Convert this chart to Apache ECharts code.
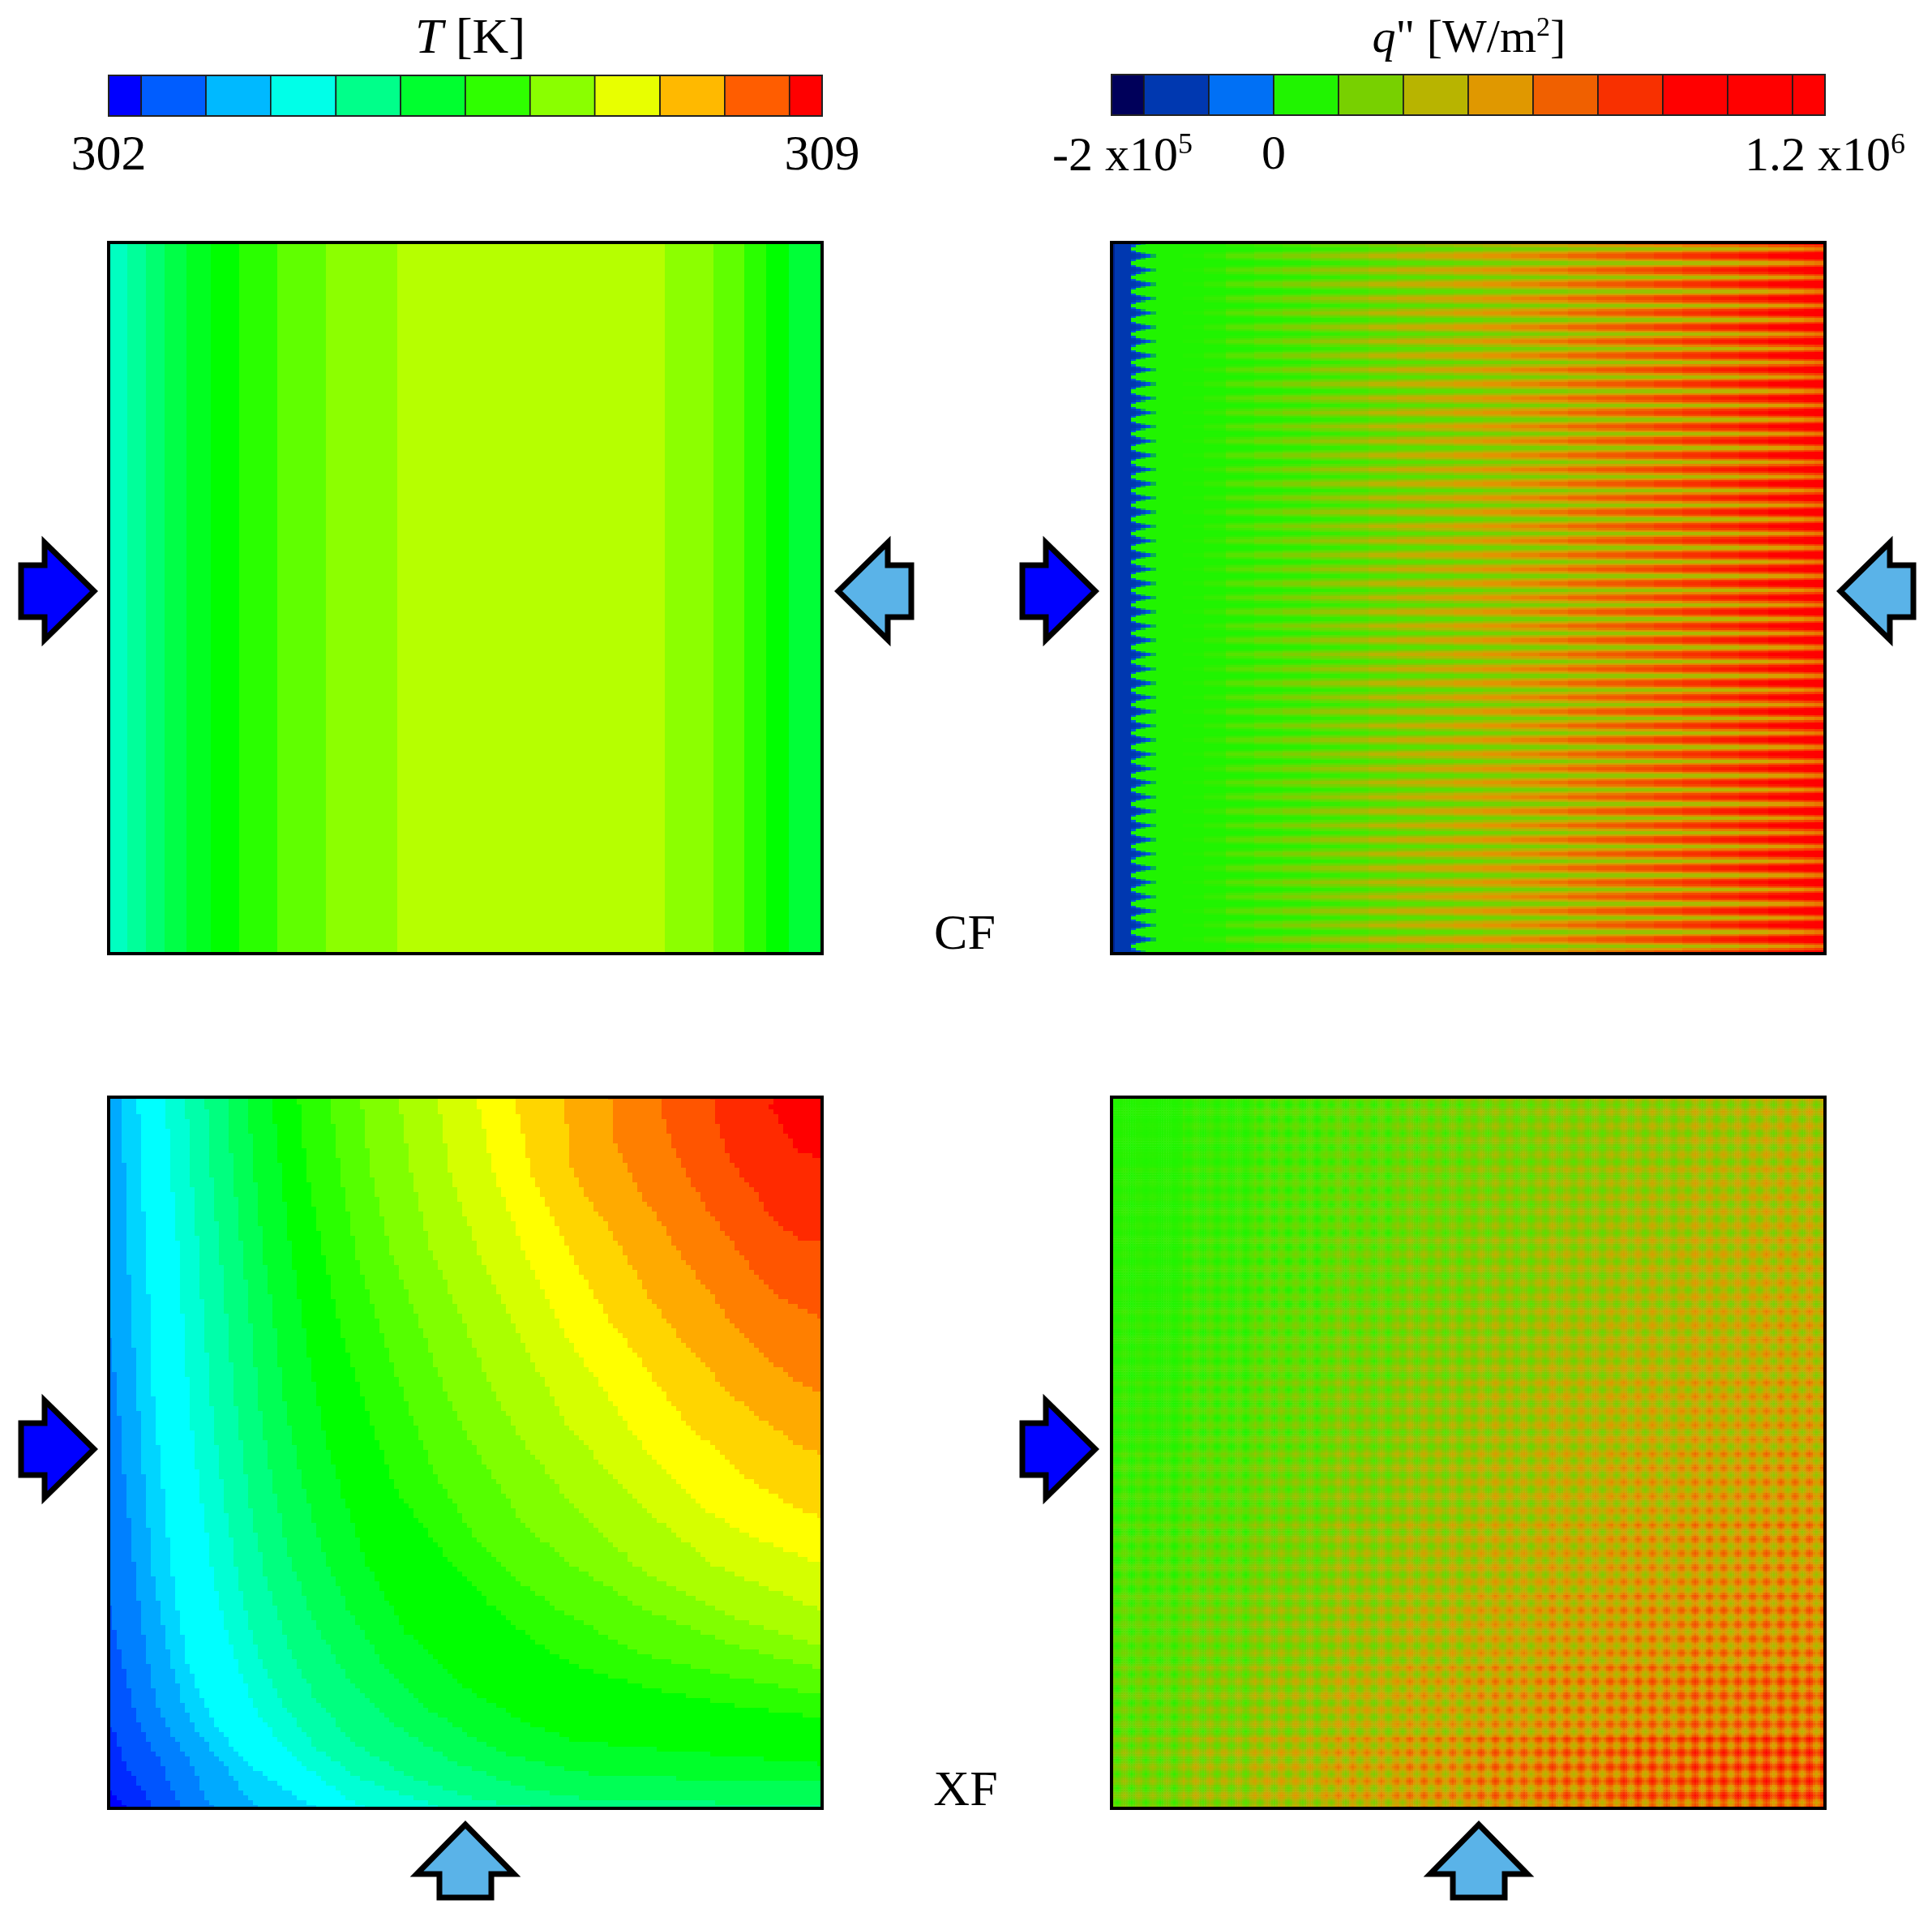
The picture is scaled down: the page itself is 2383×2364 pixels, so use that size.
<!DOCTYPE html>
<html><head><meta charset="utf-8">
<style>html,body{margin:0;padding:0;background:#fff}#c{width:2383px;height:2364px}</style>
<script src="https://cdn.jsdelivr.net/npm/echarts@6/dist/echarts.min.js"></script>
</head><body><div id="c"></div>
<script>
// ---------- colour scale levels ----------
const tempLevels = [302,302.29,302.58,302.88,303.17,303.46,303.75,304.04,304.33,304.63,304.92,305.21,305.5,305.79,306.08,306.38,306.67,306.96,307.25,307.54,307.83,308.13,308.42,308.71,309];
const tempSwatches = [302,302.64,303.27,303.91,304.55,305.18,305.82,306.45,307.09,307.73,308.36,309];
const tempColors = ['#0000ff','#00ffff','#00ff00','#ffff00','#ff0000'];
const tempTicks = [302,309];
// q" is drawn in colour-bar swatch units 0..11 (half-swatch colour stops below)
const fluxColors = ['#00005a','#001e88','#0038b0','#0054d0','#0070f5','#00a060','#20f400','#58e200','#78d000','#98c200','#b8b400','#cca600','#e09800','#e87c00','#f06000','#f44800','#f83000','#fc1800','#ff0000','#ff0000','#ff0000','#ff0000','#ff0000'];
const fluxSwatches = [0,1,2,3,4,5,6,7,8,9,10,11];
const fluxTicks = [0.17,2.5,11];
const fluxTickLabels = ['-2 x10{s|5}','0','1.2 x10{s|6}'];

// ---------- CF temperature: bands across the width ----------
const cfTempEdges = [0,.026,.052,.078,.109,.143,.183,.236,.305,.405,.779,.848,.891,.922,.953,1];
const cfTempBands = [304.18,304.44,304.73,305.01,305.28,305.5,305.79,306.16,306.46,306.75,306.46,306.16,305.79,305.5,305.12];

// ---------- XF temperature: contour k separates band k-1 and k, [x,y] ----------
const xfContours = [
 [[-.02,-.02]],
 [[-.02,.03],[0,.028],[.008,.019],[.023,0]],
 [[-.02,.118],[0,.115],[.008,.102],[.025,.059],[.048,.024],[.061,0]],
 [[-.02,.29],[0,.287],[.012,.234],[.033,.146],[.05,.102],[.075,.059],[.09,.024],[.101,0]],
 [[-.01,.7],[.004,.65],[.014,.562],[.023,.453],[.038,.322],[.05,.234],[.067,.146],[.088,.102],[.117,.059],[.13,.024],[.147,0]],
 [[.017,1.02],[.022,.894],[.026,.78],[.034,.666],[.05,.453],[.063,.322],[.08,.234],[.103,.146],[.126,.102],[.164,.059],[.187,.024],[.208,0]],
 [[.04,1.02],[.046,.894],[.052,.78],[.059,.672],[.063,.562],[.073,.475],[.082,.387],[.096,.278],[.111,.199],[.134,.146],[.16,.102],[.197,.059],[.252,.024],[.288,0]],
 [[.078,1.02],[.087,.894],[.098,.78],[.105,.672],[.115,.541],[.13,.431],[.147,.322],[.172,.225],[.206,.138],[.248,.081],[.302,.037],[.357,0]],
 [[.107,1.02],[.115,.894],[.126,.78],[.134,.672],[.147,.541],[.162,.431],[.181,.322],[.206,.225],[.244,.146],[.29,.085],[.353,.041],[.437,.011],[.466,0]],
 [[.135,1.02],[.143,.894],[.156,.78],[.167,.672],[.181,.541],[.197,.431],[.218,.33],[.248,.234],[.286,.16],[.34,.094],[.416,.046],[.521,.011],[.597,0]],
 [[.163,1.02],[.174,.894],[.187,.78],[.2,.672],[.214,.541],[.235,.431],[.256,.343],[.29,.256],[.332,.186],[.395,.12],[.479,.067],[.584,.028],[.655,.015],[.85,.008],[1.02,0]],
 [[.191,1.02],[.204,.894],[.217,.78],[.233,.672],[.248,.562],[.273,.453],[.298,.365],[.336,.278],[.386,.199],[.449,.138],[.542,.081],[.655,.05],[.8,.042],[1.02,.035]],
 [[.226,1.02],[.241,.894],[.256,.78],[.274,.672],[.298,.541],[.323,.453],[.361,.343],[.416,.247],[.5,.168],[.584,.12],[.655,.094],[.8,.08],[1.02,.06]],
 [[.263,1.02],[.278,.894],[.3,.78],[.325,.672],[.353,.584],[.399,.453],[.462,.365],[.542,.278],[.6,.232],[.643,.205],[.75,.17],[.87,.145],[1.02,.125]],
 [[.306,1.02],[.324,.894],[.346,.78],[.38,.672],[.412,.584],[.454,.475],[.508,.387],[.584,.31],[.643,.271],[.75,.215],[.87,.185],[1.02,.155]],
 [[.35,1.02],[.367,.894],[.396,.78],[.439,.672],[.471,.584],[.517,.497],[.58,.4],[.643,.345],[.75,.28],[.87,.23],[1.02,.19]],
 [[.402,1.02],[.424,.894],[.452,.78],[.502,.672],[.538,.584],[.584,.51],[.643,.434],[.75,.33],[.87,.27],[1.02,.22]],
 [[.457,1.02],[.478,.894],[.517,.78],[.571,.672],[.601,.615],[.643,.536],[.75,.42],[.85,.34],[1.02,.27]],
 [[.51,1.02],[.539,.894],[.583,.78],[.643,.66],[.7,.578],[.757,.495],[.832,.42],[.908,.378],[1.02,.335]],
 [[.565,1.02],[.591,.894],[.643,.786],[.662,.752],[.7,.688],[.734,.643],[.806,.545],[.87,.485],[.908,.452],[.969,.42],[1.02,.4]],
 [[.639,1.02],[.643,.938],[.65,.892],[.681,.843],[.704,.809],[.727,.771],[.757,.717],[.81,.648],[.87,.583],[.916,.546],[.969,.508],[1.02,.49]],
 [[.702,1.02],[.707,.938],[.723,.904],[.745,.862],[.772,.824],[.806,.771],[.844,.721],[.885,.666],[.931,.625],[.969,.597],[1.02,.57]],
 [[.777,1.02],[.776,.98],[.783,.949],[.795,.919],[.821,.87],[.844,.832],[.878,.79],[.908,.748],[.946,.714],[.995,.691],[1.02,.68]],
 [[.844,1.02],[.849,.972],[.866,.922],[.889,.881],[.908,.862],[.931,.824],[.965,.801],[.995,.797],[1.02,.79]],
 [[.94,1.02],[.927,.983],[.946,.953],[.965,.923],[.995,.915],[1.02,.91]]
];

// ---------- CF heat flux: station edges across width, then one profile per stripe position ----------
const cfFluxEdges = [0,.005,.015,.027,.034,.041,.048,.055,.062,.08,.1,.13,.16,.2,.24,.28,.32,.36,.4,.44,.48,.52,.56,.6,.64,.68,.72,.76,.8,.84,.88,.92,.95,.97,.985,1];
const cfFluxHot  = [.6,1,1,1,1.1,1.3,1.6,2.6,3,3,3.05,3.2,3.5,3.8,4.1,4.4,4.7,5,5.3,5.5,5.8,6.05,6.3,6.6,6.9,7.15,7.4,7.7,8,8.4,8.7,9,9.2,9.4,9.5];
const cfFluxWarm = [.6,1,1,1.1,1.4,2.6,3,3,3,3,3,3.1,3.3,3.5,3.7,3.9,4.2,4.4,4.7,4.9,5.2,5.4,5.7,6,6.3,6.6,6.9,7.2,7.5,7.8,8.1,8.4,8.7,8.9,9.1];
const cfFluxMid  = [.6,1,1,1.6,3,3,3,3,3,3,3,3,3.1,3.2,3.3,3.5,3.6,3.8,4,4.2,4.4,4.6,4.8,5,5.3,5.5,5.8,6,6.3,6.5,6.8,7.1,7.4,7.6,7.8];
const cfFluxCold = [.6,1,1,3,3,3,3,3,3,3,3,3,3,3.05,3.1,3.2,3.3,3.4,3.5,3.6,3.7,3.9,4,4.1,4.3,4.4,4.5,4.6,4.8,5,5.4,5.8,6.1,6.4,6.6];
const cfStripeOrder = [cfFluxHot,cfFluxWarm,cfFluxMid,cfFluxCold,cfFluxCold,cfFluxMid,cfFluxWarm,cfFluxHot];
const cfStripeCount = 50;

// ---------- XF heat flux: hot/cold spot levels per block (top row first), spot tile ----------
const xfFluxPeak = [
 [3.1,3.4,3.8,4.1,4.5,4.8,5.0,5.3,5.6,5.9],
 [3.2,3.5,3.9,4.2,4.6,4.9,5.2,5.5,5.8,6.1],
 [3.2,3.6,4.0,4.4,4.8,5.1,5.4,5.7,6.0,6.3],
 [3.3,3.7,4.2,4.6,5.0,5.3,5.6,5.9,6.2,6.5],
 [3.4,3.9,4.4,4.8,5.2,5.6,5.9,6.2,6.5,6.7],
 [3.6,4.1,4.6,5.0,5.4,5.8,6.1,6.5,6.8,7.0],
 [3.8,4.3,4.8,5.3,5.7,6.1,6.4,6.8,7.1,7.3],
 [4.0,4.6,5.1,5.6,6.0,6.4,6.8,7.1,7.4,7.6],
 [4.3,4.9,5.5,6.0,6.5,6.9,7.3,7.6,7.9,8.1],
 [4.7,5.4,6.0,6.6,7.1,7.6,8.0,8.4,8.7,8.9]];
const xfFluxTrough = [
 [3,3,3,3.1,3.2,3.4,3.5,3.6,3.7,3.8],
 [3,3,3,3.1,3.3,3.4,3.6,3.7,3.8,3.9],
 [3,3,3,3.2,3.3,3.5,3.7,3.8,3.9,4],
 [3,3,3.1,3.2,3.4,3.6,3.8,3.9,4,4.1],
 [3,3,3.1,3.3,3.5,3.7,3.9,4,4.1,4.2],
 [3,3.1,3.2,3.4,3.6,3.8,4,4.1,4.3,4.4],
 [3,3.1,3.3,3.5,3.7,3.9,4.1,4.3,4.4,4.5],
 [3.1,3.2,3.4,3.6,3.8,4.1,4.3,4.5,4.6,4.7],
 [3.1,3.3,3.5,3.8,4,4.3,4.5,4.7,4.9,5],
 [3.2,3.5,3.8,4.1,4.4,4.7,4.9,5.1,5.3,5.5]];
const xfSpotTile = [
 [.75,.5,.375,.5,.75,.875],
 [.5,.25,.125,.25,.5,.625],
 [.375,.125,0,.125,.375,.5],
 [.5,.25,.125,.25,.5,.625],
 [.75,.5,.375,.5,.75,.875],
 [.875,.625,.5,.625,.875,1]];
const xfFluxCells = 300;

// ---------- build series data ----------
const tempBarData = tempSwatches.map((t,i)=>[
  i?(tempSwatches[i-1]+t)/2:t, i<tempSwatches.length-1?(tempSwatches[i+1]+t)/2:t, t]);
const fluxBarData = fluxSwatches.map(v=>[Math.max(v-.5,0),Math.min(v+.5,11),v]);
const cfTempData = cfTempBands.map((t,i)=>[cfTempEdges[i],cfTempEdges[i+1],t]);
const xfTempData = xfContours.map((c,k)=>[k,0,tempLevels[k]]);
const cfRows = cfStripeCount*cfStripeOrder.length;
const cfFluxData = [];
for (let r=0;r<cfRows;r++){ const p=cfStripeOrder[r%cfStripeOrder.length];
  for (let c=0;c<p.length;c++) cfFluxData.push([c,r,p[c]]); }
const xfFluxData = [];
const blockSize = xfFluxCells/xfFluxPeak.length;
for (let r=0;r<xfFluxCells;r++) for (let c=0;c<xfFluxCells;c++){
  const row=xfFluxPeak.length-1-Math.floor(r/blockSize), col=Math.floor(c/blockSize);
  const lo=xfFluxTrough[row][col], hi=xfFluxPeak[row][col];
  xfFluxData.push([c,r,lo+(hi-lo)*xfSpotTile[r%6][c%6]]);
}
const cellNames = Array.from({length:xfFluxCells},(_,i)=>String(i));

// ---------- renderers ----------
function barItem(params,api){
  const a=api.coord([api.value(0),0]), b=api.coord([api.value(1),1]);
  return {type:'rect',shape:{x:a[0],y:b[1],width:b[0]-a[0],height:a[1]-b[1]},
    style:{fill:api.visual('color'),stroke:'#1a1a1a',lineWidth:1.6}};
}
function bandItem(params,api){
  const a=api.coord([api.value(0),0]), b=api.coord([api.value(1),1]);
  const l=Math.round(a[0]), r=Math.round(b[0]);
  return {type:'rect',shape:{x:l,y:b[1],width:r-l,height:a[1]-b[1]},style:{fill:api.visual('color')}};
}
// contour edges follow the mesh cells of the source plot: snap to a small pixel lattice
const MESH=6;
function meshPath(points){
  const out=[];
  for(let i=0;i<points.length;i++){
    const a=points[i], b=points[(i+1)%points.length];
    const n=Math.max(1,Math.ceil(Math.hypot(b[0]-a[0],b[1]-a[1])/2));
    for(let j=0;j<n;j++){
      const x=a[0]+(b[0]-a[0])*j/n, y=a[1]+(b[1]-a[1])*j/n;
      const p=[Math.round(x/MESH)*MESH,Math.round(y/MESH)*MESH], q=out[out.length-1];
      if(!q||q[0]!==p[0]||q[1]!==p[1]){ if(q&&q[0]!==p[0]&&q[1]!==p[1]) out.push([p[0],q[1]]); out.push(p); }
    }
  }
  return out;
}
function contourItem(params,api){
  const c=xfContours[api.value(0)], last=c[c.length-1];
  const pts=c.concat([[1.02,last[1]],[1.02,1.02],[c[0][0],1.02]]).map(p=>api.coord(p));
  return {type:'polygon',shape:{points:meshPath(pts)},style:{fill:api.visual('color')}};
}
function cfFluxItem(params,api){
  const c=api.value(0), r=api.value(1);
  const a=api.coord([cfFluxEdges[c],r/cfRows]), b=api.coord([cfFluxEdges[c+1],(r+1)/cfRows]);
  const l=Math.round(a[0]), rr=Math.round(b[0]), t=Math.round(b[1]), bt=Math.round(a[1]);
  return {type:'rect',shape:{x:l,y:t,width:rr-l,height:bt-t},style:{fill:api.visual('color')}};
}

// ---------- layout ----------
const PL=[134,1371], PW=880, TOPS=[298,1352], PH=878;
function hiddenValue(i,min,max){ return {type:'value',gridIndex:i,min,max,show:false}; }
function custom(i,data,item){ return {type:'custom',xAxisIndex:i,yAxisIndex:i,data,renderItem:item,clip:true,silent:true,animation:false,progressive:0}; }

function arrow(tx,ty,dir,fill){
  const L=90,N=61,H=60,T=32, raw=[[0,0],[-N,-H],[-N,-T],[-L,-T],[-L,T],[-N,T],[-N,H]];
  const pts=raw.map(([a,b])=> dir==='r'?[tx+a,ty+b]: dir==='l'?[tx-a,ty+b]:[tx+b,ty-a]);
  return {type:'polygon',z:50,shape:{points:pts},style:{fill,stroke:'#000',lineWidth:7,lineJoin:'miter',miterLimit:10}};
}
const BLUE='#0000ff', SKY='#5ab3e8';
const frames=[];
for (const y of TOPS) for (const x of PL)
  frames.push({type:'rect',z:40,shape:{x,y:y+1,width:PW,height:PH-1},style:{fill:'none',stroke:'#000',lineWidth:4}});

const serif='"Liberation Serif","Times New Roman",serif';
const rich={i:{fontFamily:serif,fontSize:62,fontStyle:'italic',fontWeight:'normal',color:'#000'},
  r:{fontFamily:serif,fontSize:62,fontWeight:'normal',color:'#000'},
  s:{fontFamily:serif,fontSize:36,fontWeight:'normal',color:'#000',padding:[0,0,28,0]}};
const qRich={i:{...rich.i,fontSize:58},r:{...rich.r,fontSize:58},s:{...rich.s,fontSize:34}};
const labelRich={s:rich.s};

const option={
  animation:false,backgroundColor:'#fff',
  title:[
    {left:575,top:13,textAlign:'center',text:'{i|T}{r| [K]}',textStyle:{rich,fontWeight:'normal'}},
    {left:1807,top:13,textAlign:'center',text:'{i|q}{r|" [W/m}{s|2}{r|]}',textStyle:{rich:qRich,fontWeight:'normal'}},
    {left:1185,top:1118,textAlign:'center',text:'CF',textStyle:{fontFamily:serif,fontSize:62,fontWeight:'normal',color:'#000'}},
    {left:1186,top:2174,textAlign:'center',text:'XF',textStyle:{fontFamily:serif,fontSize:62,fontWeight:'normal',color:'#000'}}
  ],
  grid:[
    {left:134,top:93,width:880,height:50},
    {left:1371,top:92,width:880,height:50},
    {left:PL[0],top:TOPS[0],width:PW,height:PH},
    {left:PL[1],top:TOPS[0],width:PW,height:PH},
    {left:PL[0],top:TOPS[1],width:PW,height:PH},
    {left:PL[1],top:TOPS[1],width:PW,height:PH}
  ],
  xAxis:[
    {type:'value',gridIndex:0,min:302,max:309,splitLine:{show:false},axisLine:{show:false},axisTick:{show:false},
     axisLabel:{customValues:tempTicks,margin:19,fontFamily:serif,fontSize:62,color:'#000',formatter:v=>String(v)}},
    {type:'value',gridIndex:1,min:0,max:11,splitLine:{show:false},axisLine:{show:false},axisTick:{show:false},
     axisLabel:{customValues:fluxTicks,margin:20,fontFamily:serif,fontSize:60,color:'#000',rich:labelRich,
       formatter:v=>fluxTickLabels[fluxTicks.indexOf(v)]}},
    hiddenValue(2,0,1),hiddenValue(3,0,1),hiddenValue(4,0,1),
    {type:'category',gridIndex:5,data:cellNames,show:false}
  ],
  yAxis:[
    hiddenValue(0,0,1),hiddenValue(1,0,1),hiddenValue(2,0,1),hiddenValue(3,0,1),hiddenValue(4,0,1),
    {type:'category',gridIndex:5,data:cellNames,show:false}
  ],
  visualMap:[
    {type:'continuous',show:false,min:302,max:309,dimension:2,seriesIndex:[0,2,4],inRange:{color:tempColors}},
    {type:'continuous',show:false,min:0,max:11,dimension:2,seriesIndex:[1,3,5],inRange:{color:fluxColors}}
  ],
  series:[
    custom(0,tempBarData,barItem),
    custom(1,fluxBarData,barItem),
    custom(2,cfTempData,bandItem),
    custom(3,cfFluxData,cfFluxItem),
    custom(4,xfTempData,contourItem),
    {type:'heatmap',xAxisIndex:5,yAxisIndex:5,data:xfFluxData,silent:true,animation:false,progressive:0,emphasis:{disabled:true}}
  ],
  graphic:{elements:[...frames,
    {type:'rect',z:40,shape:{x:134,y:93,width:880,height:50},style:{fill:'none',stroke:'#222',lineWidth:2}},
    {type:'rect',z:40,shape:{x:1371,y:92,width:880,height:50},style:{fill:'none',stroke:'#222',lineWidth:2}},
    arrow(116,729,'r',BLUE),arrow(1034,729,'l',SKY),arrow(1351,729,'r',BLUE),arrow(2270,729,'l',SKY),
    arrow(116,1787,'r',BLUE),arrow(1351,1787,'r',BLUE),
    arrow(574,2250,'u',SKY),arrow(1824,2250,'u',SKY)
  ]}
};
const chart=echarts.init(document.getElementById('c'),null,{renderer:'canvas',width:2383,height:2364});
chart.setOption(option);
</script></body></html>
